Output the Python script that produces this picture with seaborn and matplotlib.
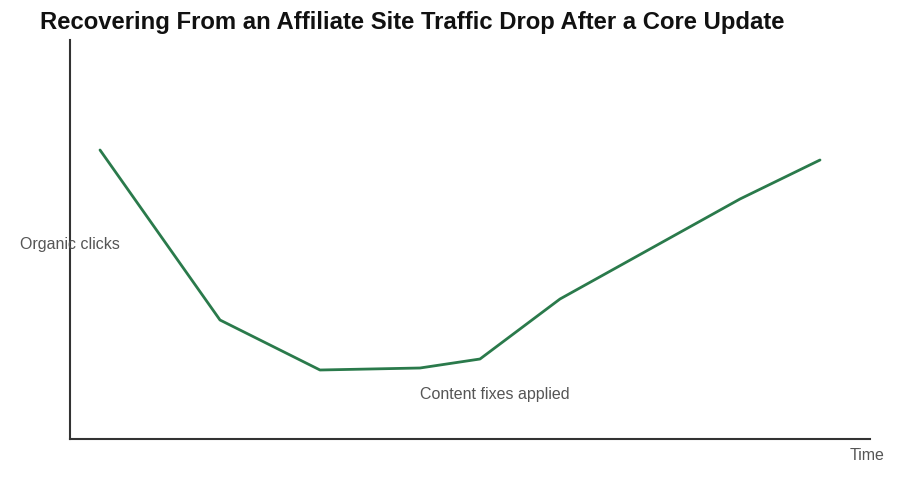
import matplotlib
matplotlib.use('Agg')
import matplotlib.pyplot as plt
import pandas as pd
import seaborn as sns

sns.set_style('white')
plt.rcParams['font.family'] = ['Liberation Sans', 'DejaVu Sans']

# data (arbitrary units)
time_pts = [3, 15, 25, 35, 41, 49, 67, 75]
clicks = [289, 119, 69, 71, 80, 140, 240, 279]

title = 'Recovering From an Affiliate Site Traffic Drop After a Core Update'
line_color = '#2a7a4b'
text_color = '#555555'

df = pd.DataFrame({'time': time_pts, 'clicks': clicks})

fig = plt.figure(figsize=(9, 5), dpi=100)
ax = fig.add_axes([70 / 900, 61 / 500, 800 / 900, 399 / 500])

sns.lineplot(data=df, x='time', y='clicks', ax=ax, color=line_color,
             linewidth=2.0, sort=False)

ax.set_xlim(0, 80)
ax.set_ylim(0, 399)
ax.set_xticks([])
ax.set_yticks([])
ax.set_xlabel('')
ax.set_ylabel('')
for side in ['top', 'right']:
    ax.spines[side].set_visible(False)
for side in ['left', 'bottom']:
    ax.spines[side].set_color('#333333')
    ax.spines[side].set_linewidth(1.5)

fig.text(40 / 900, 1 - 22 / 500, title, fontsize=17.2, fontweight='bold',
         color='#111111', ha='left', va='center')
fig.text(20 / 900, 1 - 245 / 500, 'Organic clicks', fontsize=11.5,
         color=text_color, ha='left', va='center')
fig.text(850 / 900, 1 - 455 / 500, 'Time', fontsize=11.5,
         color=text_color, ha='left', va='center')
ax.text(35, 44, 'Content fixes applied', fontsize=11.5, color=text_color,
        ha='left', va='center')

plt.savefig('out.png', dpi=100)
